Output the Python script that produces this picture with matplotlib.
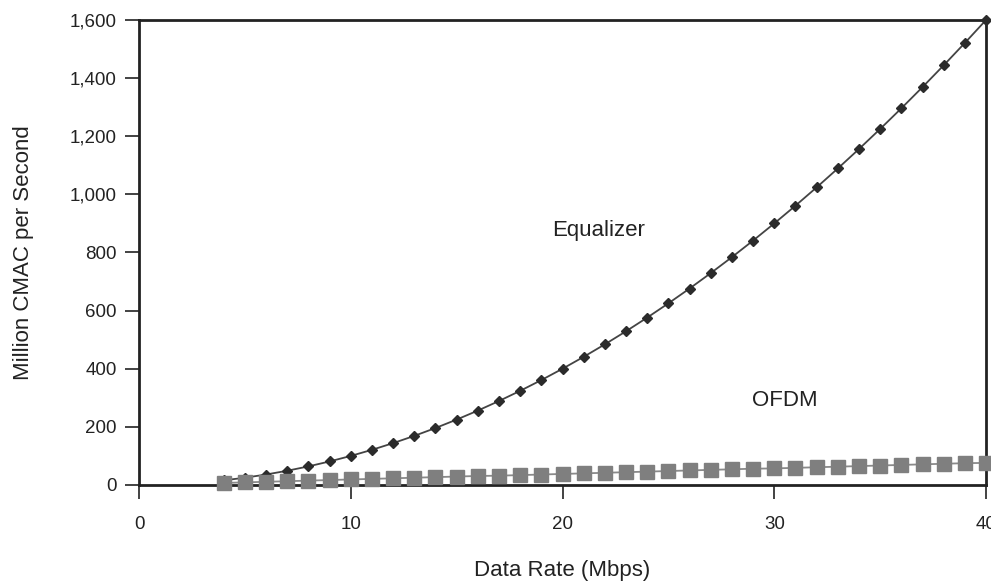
import matplotlib
matplotlib.use("Agg")
import matplotlib.pyplot as plt
from matplotlib.ticker import FuncFormatter

# Data rate (Mbps) sampled every 1 Mbps from 4 to 40
data_rate = list(range(4, 41))

equalizer = [16, 25, 36, 49, 64, 81, 100, 121, 144, 169, 196, 225, 256, 289,
             324, 361, 400, 441, 484, 529, 576, 625, 676, 729, 784, 841, 900,
             961, 1024, 1089, 1156, 1225, 1296, 1369, 1444, 1521, 1600]

ofdm = [7, 9, 11, 13, 15, 17, 19, 21, 23, 25, 27, 29, 31, 32, 34, 36, 38, 40,
        42, 44, 46, 48, 50, 52, 54, 56, 57, 59, 61, 63, 65, 67, 69, 71, 73,
        75, 76]

x_ticks = [0, 10, 20, 30, 40]
y_ticks = [0, 200, 400, 600, 800, 1000, 1200, 1400, 1600]

plt.rcParams["font.family"] = ["Liberation Sans", "DejaVu Sans"]

fig = plt.figure(figsize=(9.91, 5.82), dpi=100)
ax = fig.add_axes([0.1403, 0.1667, 0.8547, 0.799])

ax.plot(data_rate, equalizer, color="#444444", linewidth=1.3,
        marker="D", markersize=5.5, markerfacecolor="#2b2b2b",
        markeredgecolor="#2b2b2b", clip_on=False, zorder=4)

ax.plot(data_rate, ofdm, color="#8a8a8a", linewidth=1.3,
        marker="s", markersize=9.5, markerfacecolor="#7f7f7f",
        markeredgecolor="#7f7f7f", clip_on=False, zorder=5)

ax.text(21.7, 877, "Equalizer", fontsize=16, ha="center", va="center",
        color="#222222")
ax.text(30.5, 292, "OFDM", fontsize=16, ha="center", va="center",
        color="#222222")

ax.set_xlim(0, 40)
ax.set_ylim(0, 1600)
ax.set_xticks(x_ticks)
ax.set_yticks(y_ticks)
ax.yaxis.set_major_formatter(FuncFormatter(lambda v, p: f"{int(v):,}"))

for side in ["left", "right", "top", "bottom"]:
    ax.spines[side].set_linewidth(2)
    ax.spines[side].set_color("#222222")

ax.tick_params(axis="x", direction="out", length=10, width=1.2,
               labelsize=13.5, pad=12, colors="#222222")
ax.tick_params(axis="y", direction="out", length=10, width=1.2,
               labelsize=13.5, pad=6, colors="#222222")

ax.set_xlabel("Data Rate (Mbps)", fontsize=16, labelpad=20, color="#222222")
ax.set_ylabel("Million CMAC per Second", fontsize=16, labelpad=26,
              color="#222222")

plt.savefig("out.png", dpi=100)
plt.close()
